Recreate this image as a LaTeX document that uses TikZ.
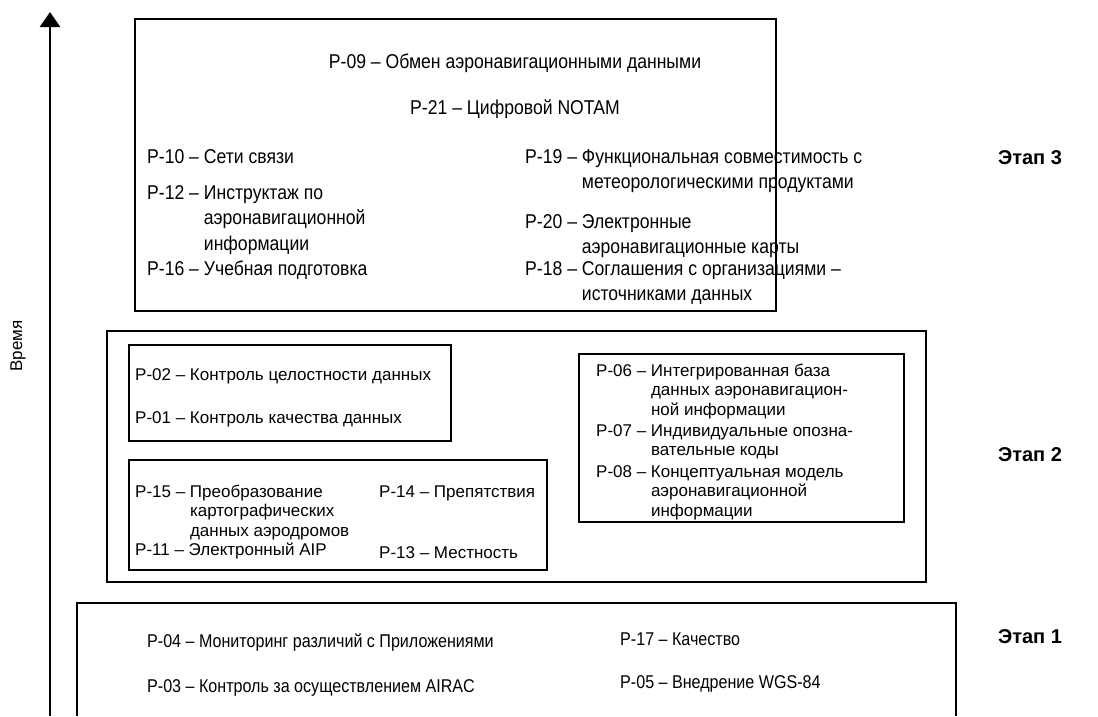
\documentclass[tikz,border=0pt]{standalone}
\usepackage{fontspec}
\setmainfont{Liberation Sans}
\newfontfamily\narrowfont[FakeStretch=0.88]{Liberation Sans}
\newfontfamily\narrowerfont[FakeStretch=0.87]{Liberation Sans}
\usetikzlibrary{arrows.meta}
\newcommand{\pitem}[2]{\begin{tabular}[t]{@{}l@{~}l@{}}#1 –&\begin{tabular}[t]{@{}l@{}}#2\end{tabular}\end{tabular}}
\tikzset{
  etapbox/.style={line width=2.2pt},
  grpbox/.style={line width=1.1pt},
  tthree/.style={anchor=base west,inner sep=0pt,font=\narrowfont\fontsize{20}{25.5}\selectfont},
  ttwo/.style={anchor=base west,inner sep=0pt,font=\fontsize{17}{19.5}\selectfont},
  tone/.style={anchor=base west,inner sep=0pt,font=\narrowerfont\fontsize{18.5}{22}\selectfont},
  etaplbl/.style={font=\bfseries\fontsize{20}{23}\selectfont},
}
\begin{document}
\begin{tikzpicture}[x=1pt,y=-1pt]
\useasboundingbox (0,0) rectangle (1098,716);
\coordinate (tbot) at (50,716);
\coordinate (ttop) at (50,12);
\draw[line width=2.6pt,-{Triangle[width=20pt,length=15pt]}] (tbot) -- (ttop);
\node[rotate=90,font=\fontsize{17}{20}\selectfont] (vremya) at (18,346) {Время};

\draw[etapbox] (135,19) rectangle (776,311);
\draw[etapbox] (107,331) rectangle (926,582);
\draw[etapbox] (77,716) |- (956,603) -- (956,716);
\draw[grpbox] (129,345) rectangle (451,441);
\draw[grpbox] (129,460) rectangle (547,570);
\draw[grpbox] (579,354) rectangle (904,522);

\node[tthree,anchor=base] (p09) at (515,68) {P-09 – Обмен аэронавигационными данными};
\node[tthree,anchor=base] (p21) at (515,114) {P-21 – Цифровой NOTAM};
\node[tthree] (p10) at (147,163) {\pitem{P-10}{Сети связи}};
\node[tthree] (p12) at (147,199) {\pitem{P-12}{Инструктаж по\\аэронавигационной\\информации}};
\node[tthree] (p16) at (147,275) {\pitem{P-16}{Учебная подготовка}};
\node[tthree] (p19) at (525,163) {\pitem{P-19}{Функциональная совместимость с\\метеорологическими продуктами}};
\node[tthree] (p20) at (525,228) {\pitem{P-20}{Электронные\\аэронавигационные карты}};
\node[tthree] (p18) at (525,275) {\pitem{P-18}{Соглашения с организациями –\\источниками данных}};

\node[ttwo] (p02) at (135,380) {\pitem{P-02}{Контроль целостности данных}};
\node[ttwo] (p01) at (135,423) {\pitem{P-01}{Контроль качества данных}};
\node[ttwo] (p15) at (135,497) {\pitem{P-15}{Преобразование\\картографических\\данных аэродромов}};
\node[ttwo] (p11) at (135,555) {\pitem{P-11}{Электронный AIP}};
\node[ttwo] (p14) at (379,497) {\pitem{P-14}{Препятствия}};
\node[ttwo] (p13) at (379,558) {\pitem{P-13}{Местность}};
\node[ttwo] (p06) at (596,376) {\pitem{P-06}{Интегрированная база\\данных аэронавигацион-\\ной информации}};
\node[ttwo] (p07) at (596,436) {\pitem{P-07}{Индивидуальные опозна-\\вательные коды}};
\node[ttwo] (p08) at (596,477) {\pitem{P-08}{Концептуальная модель\\аэронавигационной\\информации}};

\node[tone] (p04) at (147,647) {\pitem{P-04}{Мониторинг различий с Приложениями}};
\node[tone] (p03) at (147,692) {\pitem{P-03}{Контроль за осуществлением AIRAC}};
\node[tone] (p17) at (620,645) {\pitem{P-17}{Качество}};
\node[tone] (p05) at (620,688) {\pitem{P-05}{Внедрение WGS-84}};

\node[etaplbl] (etap3) at (1030,158) {Этап 3};
\node[etaplbl] (etap2) at (1030,455) {Этап 2};
\node[etaplbl] (etap1) at (1030,637) {Этап 1};
\end{tikzpicture}
\end{document}
